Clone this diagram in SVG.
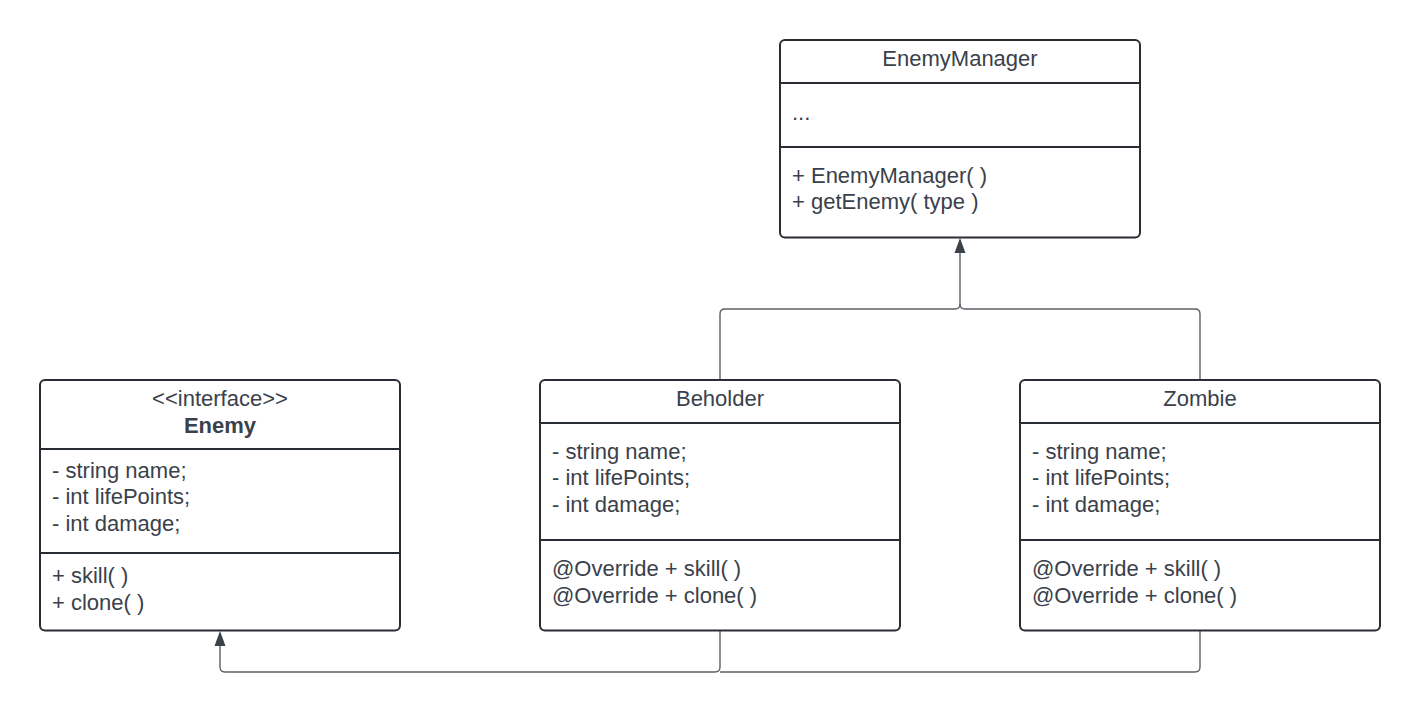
<svg xmlns="http://www.w3.org/2000/svg" width="1420" height="712" viewBox="0 0 1420 712">
<style>
.box{fill:#ffffff;stroke:#282c33;stroke-width:2}
.div{stroke:#282c33;stroke-width:2}
.t{font-family:"Liberation Sans",Arial,sans-serif;font-size:22px;fill:#3a414a}
.c{text-anchor:middle}
.b{font-weight:bold}
.con{fill:none;stroke:#5e6068;stroke-width:1.4}
.ah{fill:#3a414a}
</style>
<rect width="1420" height="712" fill="#ffffff"/>
<g id="connectors">
<path class="con" d="M720,380 V314 Q720,309 725,309 H955 Q960,309 960,304 V252"/>
<path class="con" d="M1200,380 V314 Q1200,309 1195,309 H965 Q960,309 960,304"/>
<polygon class="ah" points="960,238 954.5,253 965.5,253"/>
<path class="con" d="M720,631 V667 Q720,672 715,672 H225 Q220,672 220,667 V645"/>
<path class="con" d="M1200,631 V667 Q1200,672 1195,672 H720"/>
<polygon class="ah" points="220,631 214.5,646 225.5,646"/>
</g>
<g id="EnemyManager">
<rect class="box" x="780" y="40" width="360" height="197.5" rx="5"/>
<line class="div" x1="780" y1="83" x2="1140" y2="83"/>
<line class="div" x1="780" y1="147" x2="1140" y2="147"/>
<text class="t c" x="960" y="66">EnemyManager</text>
<text class="t" x="792" y="120">...</text>
<text class="t" x="792" y="183">+ EnemyManager( )</text>
<text class="t" x="792" y="209">+ getEnemy( type )</text>
</g>
<g id="Enemy">
<rect class="box" x="40" y="380" width="360" height="250.5" rx="5"/>
<line class="div" x1="40" y1="449" x2="400" y2="449"/>
<line class="div" x1="40" y1="553" x2="400" y2="553"/>
<text class="t c" x="220" y="406">&lt;&lt;interface&gt;&gt;</text>
<text class="t c b" x="220" y="433">Enemy</text>
<text class="t" x="52" y="478">- string name;</text>
<text class="t" x="52" y="504">- int lifePoints;</text>
<text class="t" x="52" y="531">- int damage;</text>
<text class="t" x="52" y="583">+ skill( )</text>
<text class="t" x="52" y="610">+ clone( )</text>
</g>
<g id="Beholder">
<rect class="box" x="540" y="380" width="360" height="250.5" rx="5"/>
<line class="div" x1="540" y1="423" x2="900" y2="423"/>
<line class="div" x1="540" y1="540" x2="900" y2="540"/>
<text class="t c" x="720" y="406">Beholder</text>
<text class="t" x="552" y="459">- string name;</text>
<text class="t" x="552" y="485">- int lifePoints;</text>
<text class="t" x="552" y="512">- int damage;</text>
<text class="t" x="552" y="576">@Override + skill( )</text>
<text class="t" x="552" y="603">@Override + clone( )</text>
</g>
<g id="Zombie">
<rect class="box" x="1020" y="380" width="360" height="250.5" rx="5"/>
<line class="div" x1="1020" y1="423" x2="1380" y2="423"/>
<line class="div" x1="1020" y1="540" x2="1380" y2="540"/>
<text class="t c" x="1200" y="406">Zombie</text>
<text class="t" x="1032" y="459">- string name;</text>
<text class="t" x="1032" y="485">- int lifePoints;</text>
<text class="t" x="1032" y="512">- int damage;</text>
<text class="t" x="1032" y="576">@Override + skill( )</text>
<text class="t" x="1032" y="603">@Override + clone( )</text>
</g>
</svg>
